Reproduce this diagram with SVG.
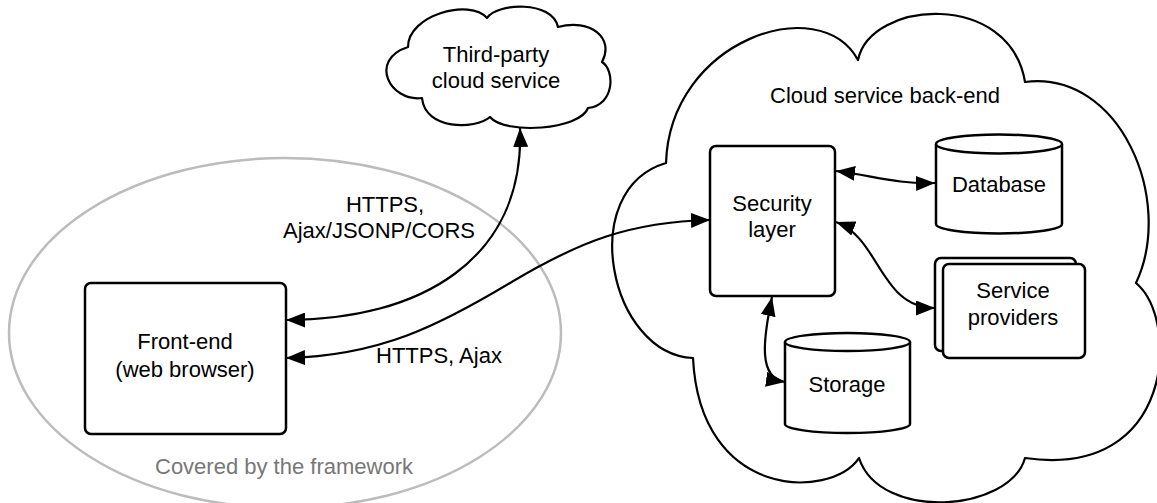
<svg xmlns="http://www.w3.org/2000/svg" width="1157" height="503" viewBox="0 0 1157 503">
  <style>
    .node { fill: #ffffff; stroke: #000000; stroke-width: 2.5; stroke-linejoin: round; }
    .cloud { fill: #ffffff; stroke: #000000; stroke-width: 2.2; stroke-linejoin: round; }
    .boundary { fill: none; stroke: #bcbcbc; stroke-width: 2.5; }
    .link { fill: none; stroke: #000000; stroke-width: 2.2; }
    text { font-family: "Liberation Sans", Arial, sans-serif; font-size: 22px; fill: #000000; }
    .mid { text-anchor: middle; }
    .muted { fill: #777777; }
  </style>
  <defs>
    <marker id="arrow" viewBox="0 0 19 15" refX="19" refY="7.5" markerWidth="19" markerHeight="15" markerUnits="userSpaceOnUse" orient="auto-start-reverse">
      <path d="M0,0 L19,7.5 L0,15 z" fill="#000000"/>
    </marker>
  </defs>

  <!-- Client-side boundary -->
  <g id="frameworkBoundary">
    <ellipse class="boundary" cx="285" cy="333" rx="276" ry="175"/>
    <text class="mid muted" x="284" y="474">Covered by the framework</text>
  </g>

  <!-- External service -->
  <g id="thirdPartyCloud">
    <path class="cloud" d="M408,47 C408,15 470,-2 487,18 C497,3 552,0 558,27 C590,18 615,38 602,62 C615,70 615,105 588,108 C580,130 505,135 490,117 C475,130 425,130 422,98 C390,102 368,60 408,47 Z"/>
    <text class="mid" x="496" y="62">Third-party</text>
    <text class="mid" x="496" y="88">cloud service</text>
  </g>

  <!-- Back-end container -->
  <g id="backendCloud">
    <path class="cloud" d="M666,163 C670,40 820,-10 858,60 C870,0 1010,-10 1025,82 C1120,70 1175,200 1136,283 C1180,320 1175,480 1025,458 C1010,512 880,522 859,458 C830,500 700,500 693,358 C610,355 575,190 666,163 Z"/>
    <text class="mid" x="885" y="103">Cloud service back-end</text>
  </g>

  <!-- Connectors -->
  <g id="connectors">
    <path class="link" marker-start="url(#arrow)" marker-end="url(#arrow)" d="M520,128 C525,260 420,320 286,320"/>
    <path class="link" marker-start="url(#arrow)" marker-end="url(#arrow)" d="M286,358 C380,356 440,325 510,283 S630,222 710,220"/>
    <path class="link" marker-start="url(#arrow)" marker-end="url(#arrow)" d="M836,171 C875,176 895,184 935,183"/>
    <path class="link" marker-start="url(#arrow)" marker-end="url(#arrow)" d="M836,222 C880,238 880,308 935,308"/>
    <path class="link" marker-start="url(#arrow)" marker-end="url(#arrow)" d="M772,297 C763,340 758,378 785,382"/>
  </g>

  <!-- Connector labels -->
  <g id="linkLabels">
    <text class="mid" x="385" y="212">HTTPS,</text>
    <text class="mid" x="379" y="238">Ajax/JSONP/CORS</text>
    <text x="376" y="363">HTTPS, Ajax</text>
  </g>

  <g id="frontEnd">
    <rect class="node" x="85" y="283" width="201" height="151" rx="6"/>
    <text class="mid" x="185" y="349">Front-end</text>
    <text class="mid" x="185" y="377">(web browser)</text>
  </g>

  <g id="securityLayer">
    <rect class="node" x="710" y="146" width="125" height="150" rx="6"/>
    <text class="mid" x="772" y="211">Security</text>
    <text class="mid" x="772" y="237">layer</text>
  </g>

  <g id="database">
    <path class="node" d="M936,144 A63,9.5 0 0,1 1062,144 L1062,224 A63,9.5 0 0,1 936,224 Z"/>
    <path class="node" fill="none" d="M936,144 A63,9.5 0 0,0 1062,144"/>
    <text class="mid" x="999" y="192">Database</text>
  </g>

  <g id="serviceProviders">
    <rect class="node" x="935" y="258" width="141" height="93" rx="6"/>
    <rect class="node" x="943" y="264" width="142" height="94" rx="6"/>
    <text class="mid" x="1013" y="298">Service</text>
    <text class="mid" x="1013" y="325">providers</text>
  </g>

  <g id="storage">
    <path class="node" d="M785,342 A62.5,9 0 0,1 910,342 L910,424 A62.5,9 0 0,1 785,424 Z"/>
    <path class="node" fill="none" d="M785,342 A62.5,9 0 0,0 910,342"/>
    <text class="mid" x="847" y="392">Storage</text>
  </g>
</svg>
